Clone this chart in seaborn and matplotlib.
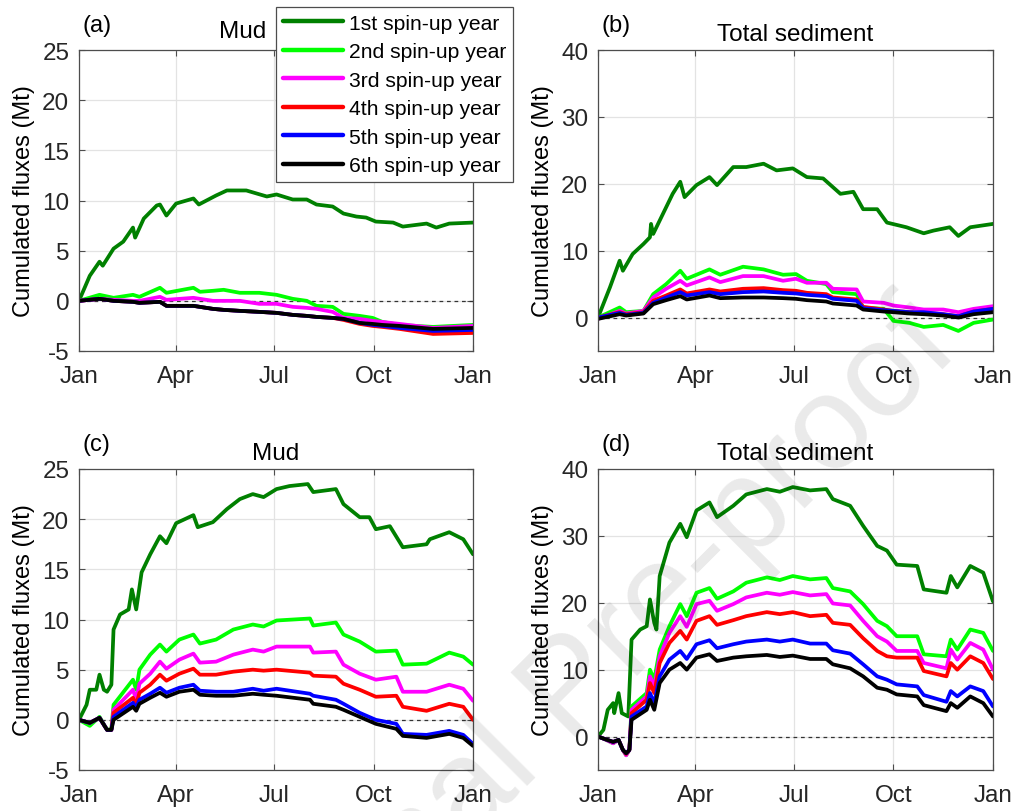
import numpy as np
import pandas as pd
import matplotlib
matplotlib.use("Agg")
import matplotlib.pyplot as plt
from matplotlib.lines import Line2D
import seaborn as sns

# ---------------- data ----------------
series_names = ["1st spin-up year", "2nd spin-up year", "3rd spin-up year",
                "4th spin-up year", "5th spin-up year", "6th spin-up year"]
series_colors = ["#008000", "#00ff00", "#ff00ff", "#ff0000", "#0000ff", "#000000"]
month_ticks = [0, 90, 181, 273, 365]
month_labels = ["Jan", "Apr", "Jul", "Oct", "Jan"]
panel_letters = ["(a)", "(b)", "(c)", "(d)"]
panel_titles = ["Mud", "Total sediment", "Mud", "Total sediment"]

# ---- panel (a): Mud ----
a_days1 = [0, 10, 19, 22, 32, 41, 50, 52, 60, 72, 75, 81, 90, 106, 111, 127, 137, 155, 174, 183,
           198, 211, 220, 235, 245, 257, 266, 275, 291, 300, 322, 331, 343, 365]
a_y1 = [0, 2.5, 3.9, 3.5, 5.2, 5.9, 7.3, 6.3, 8.2, 9.5, 9.6, 8.5, 9.7, 10.2, 9.6, 10.5, 11.0, 11.0, 10.4, 10.6,
        10.1, 10.1, 9.6, 9.4, 8.7, 8.4, 8.3, 7.9, 7.8, 7.4, 7.7, 7.3, 7.7, 7.8]
a_days = [0, 19, 32, 50, 56, 75, 81, 106, 112, 124, 134, 149, 167, 183, 198, 211, 220, 235, 245, 260,
          272, 281, 297, 328, 365]
a_y2 = [0, 0.6, 0.3, 0.6, 0.4, 1.3, 0.8, 1.3, 0.9, 1.0, 1.1, 0.8, 0.8, 0.6, 0.2, 0.0, -0.5, -0.6, -1.3, -1.5,
        -1.7, -2.1, -2.4, -2.6, -2.4]
a_y3 = [0, 0.2, 0.1, 0.0, 0.0, 0.4, 0.1, 0.3, 0.2, 0.0, 0.0, 0.0, -0.3, -0.3, -0.6, -0.7, -0.8, -1.1, -1.7, -1.8,
        -2.0, -2.1, -2.3, -2.7, -2.5]
a_y4 = [0, 0.2, 0.0, -0.1, -0.2, -0.1, -0.5, -0.5, -0.6, -0.8, -0.9, -1.0, -1.1, -1.2, -1.4, -1.5, -1.6, -1.7, -1.9, -2.3,
        -2.5, -2.6, -2.8, -3.3, -3.2]
a_y5 = [0, 0.2, 0.0, -0.1, -0.2, -0.1, -0.5, -0.5, -0.6, -0.8, -0.9, -1.0, -1.1, -1.2, -1.4, -1.5, -1.6, -1.7, -1.8, -2.2,
        -2.4, -2.5, -2.7, -3.0, -2.9]
a_y6 = [0, 0.2, 0.0, -0.1, -0.2, -0.1, -0.5, -0.5, -0.6, -0.8, -0.9, -1.0, -1.1, -1.2, -1.4, -1.5, -1.6, -1.7, -1.8, -2.2,
        -2.3, -2.4, -2.5, -2.8, -2.7]

# ---- panel (b): Total sediment ----
b_days1 = [0, 11, 20, 23, 32, 42, 48, 49, 51, 60, 69, 76, 80, 91, 103, 110, 125, 137, 153, 165,
           180, 193, 208, 224, 236, 245, 258, 267, 285, 301, 310, 325, 333, 344, 365]
b_y1 = [0, 4.5, 8.5, 7.0, 9.5, 11.0, 12.0, 14.0, 12.5, 15.5, 18.5, 20.3, 18.0, 19.8, 21.0, 19.8, 22.5, 22.5, 23.0, 22.0,
        22.3, 21.0, 20.8, 18.5, 18.8, 16.2, 16.2, 14.2, 13.5, 12.6, 13.0, 13.5, 12.2, 13.5, 14.0]
b_days = [0, 20, 26, 42, 51, 63, 76, 82, 103, 113, 134, 153, 171, 183, 193, 211, 217, 239, 245, 264,
          273, 288, 301, 319, 333, 347, 365]
b_y2 = [0, 1.5, 0.8, 1.0, 3.5, 5.0, 7.0, 5.8, 7.2, 6.4, 7.6, 7.2, 6.4, 6.5, 5.5, 5.0, 3.8, 3.5, 1.5, 1.3,
        -0.5, -0.8, -1.4, -1.1, -2.0, -0.8, -0.3]
b_y3 = [-0.2, 1.0, 0.6, 1.0, 3.0, 4.3, 5.5, 4.8, 6.0, 5.3, 6.2, 6.2, 5.5, 5.8, 5.2, 5.2, 4.3, 4.2, 2.4, 2.2,
        1.8, 1.5, 1.2, 1.2, 0.8, 1.3, 1.7]
b_y4 = [0, 0.8, 0.5, 0.8, 2.5, 3.3, 4.2, 3.6, 4.2, 3.9, 4.3, 4.4, 4.1, 4.0, 3.7, 3.5, 3.0, 2.7, 1.6, 1.2,
        1.0, 0.8, 0.7, 0.5, 0.2, 0.9, 1.3]
b_y5 = [0, 0.7, 0.4, 0.7, 2.2, 3.0, 3.8, 3.3, 3.8, 3.5, 3.8, 3.9, 3.7, 3.6, 3.4, 3.2, 2.8, 2.5, 1.4, 1.1,
        1.0, 0.8, 0.8, 0.5, 0.2, 0.9, 1.3]
b_y6 = [-0.2, 0.5, 0.3, 0.6, 2.0, 2.6, 3.2, 2.7, 3.3, 2.9, 3.0, 3.0, 2.9, 2.8, 2.6, 2.4, 2.1, 1.8, 1.2, 0.9,
        0.8, 0.6, 0.5, 0.3, 0.0, 0.5, 0.8]

# ---- panel (c): Mud ----
c_days1 = [0, 7, 10, 16, 19, 23, 26, 30, 32, 38, 46, 49, 53, 58, 66, 75, 81, 90, 106, 110,
           124, 137, 149, 161, 171, 183, 195, 212, 217, 238, 245, 260, 269, 275, 288, 300, 322, 325, 343, 356, 365]
c_y1 = [0, 1.5, 3.0, 3.0, 4.5, 3.0, 2.8, 3.5, 9.0, 10.5, 11.0, 13.0, 11.0, 14.7, 16.5, 18.3, 17.6, 19.6, 20.4, 19.2,
        19.7, 21.0, 22.0, 22.5, 22.2, 23.0, 23.3, 23.5, 22.7, 23.0, 21.5, 20.2, 20.2, 19.0, 19.3, 17.2, 17.5, 18.0,
        18.7, 18.0, 16.5]
c_days = [0, 10, 19, 26, 30, 32, 50, 53, 56, 66, 75, 81, 93, 106, 112, 127, 143, 161, 171, 183,
          214, 217, 238, 245, 260, 275, 294, 300, 322, 343, 356, 365]
c_y2 = [0, -0.6, 0.3, -1.0, -0.9, 1.5, 4.0, 3.0, 5.0, 6.5, 7.5, 6.8, 8.0, 8.5, 7.6, 8.0, 9.0, 9.5, 9.3, 9.9,
        10.1, 9.4, 9.7, 8.5, 7.8, 6.8, 6.9, 5.5, 5.6, 6.7, 6.3, 5.5]
c_y3 = [0, -0.3, 0.2, -1.0, -1.0, 1.0, 3.0, 2.0, 3.6, 4.6, 5.8, 5.1, 6.0, 6.6, 5.7, 5.8, 6.5, 7.0, 6.8, 7.3,
        7.3, 6.7, 6.8, 5.5, 4.6, 4.0, 4.3, 2.8, 2.8, 3.5, 3.1, 1.9]
c_y4 = [0, -0.3, 0.2, -1.0, -1.0, 0.7, 2.2, 1.5, 2.7, 3.5, 4.5, 3.9, 4.6, 5.1, 4.5, 4.5, 4.8, 5.0, 4.9, 5.0,
        4.7, 4.4, 4.3, 3.6, 3.0, 2.3, 2.4, 1.3, 0.9, 1.6, 1.3, 0.0]
c_y5 = [0, -0.3, 0.2, -1.0, -1.0, 0.3, 1.7, 1.2, 2.0, 2.6, 3.2, 2.7, 3.2, 3.5, 2.9, 2.8, 2.8, 3.1, 2.9, 3.1,
        2.6, 2.4, 2.0, 1.6, 0.7, 0.0, -0.4, -1.4, -1.5, -1.1, -1.5, -2.4]
c_y6 = [0, -0.3, 0.2, -1.0, -1.0, 0.0, 1.3, 0.9, 1.6, 2.2, 2.7, 2.3, 2.8, 3.0, 2.5, 2.4, 2.4, 2.6, 2.5, 2.4,
        2.0, 1.6, 1.3, 1.0, 0.3, -0.4, -0.9, -1.6, -1.8, -1.4, -1.8, -2.6]

# ---- panel (d): Total sediment ----
d_days1 = [0, 5, 9, 14, 15, 19, 22, 28, 31, 39, 45, 48, 52, 54, 57, 66, 76, 82, 91, 103,
           110, 125, 137, 156, 168, 180, 196, 211, 217, 233, 245, 258, 267, 276, 295, 301, 322, 326, 332, 344, 356, 365]
d_y1 = [0, 1.0, 4.0, 5.0, 3.5, 6.5, 3.5, 3.0, 14.5, 16.0, 16.5, 20.5, 17.0, 16.0, 24.0, 29.0, 31.8, 29.8, 33.8, 35.0,
        32.8, 34.5, 36.2, 37.0, 36.6, 37.3, 36.8, 37.0, 35.5, 34.5, 31.5, 28.5, 27.8, 25.7, 25.5, 22.0, 21.5, 24.0,
        22.3, 25.5, 24.5, 20.2]
d_days = [0, 5, 14, 19, 23, 26, 29, 31, 45, 48, 52, 57, 66, 76, 82, 91, 103, 110, 125, 137,
          156, 168, 180, 196, 211, 217, 233, 245, 258, 267, 276, 295, 301, 322, 326, 332, 344, 356, 365]
d_y2 = [0, -0.3, -1.0, -0.5, -2.0, -2.8, -2.0, 4.5, 6.5, 10.0, 8.5, 13.0, 16.5, 19.8, 18.0, 21.5, 22.2, 20.6, 21.7, 23.0,
        23.8, 23.4, 24.0, 23.5, 23.7, 22.2, 21.7, 19.8, 17.3, 16.5, 15.0, 15.0, 12.3, 12.0, 14.5, 13.0, 16.0, 15.5, 12.8]
d_y3 = [0, -0.3, -1.0, -0.5, -2.0, -2.8, -2.0, 4.0, 6.0, 9.0, 7.5, 12.0, 15.5, 18.0, 16.4, 19.8, 20.3, 18.8, 19.8, 20.8,
        21.5, 21.2, 21.6, 21.1, 21.3, 19.9, 19.6, 17.3, 15.0, 14.2, 12.8, 12.8, 11.0, 10.2, 13.0, 11.5, 14.0, 13.0, 10.0]
d_y4 = [0, -0.3, -0.8, -0.5, -2.0, -2.6, -2.0, 3.5, 5.5, 8.0, 6.5, 11.0, 14.0, 15.8, 14.5, 17.3, 18.0, 16.7, 17.4, 18.0,
        18.6, 18.3, 18.6, 18.0, 18.2, 17.0, 16.7, 14.7, 12.8, 12.0, 11.8, 11.8, 9.8, 9.0, 11.0, 10.0, 12.0, 11.0, 8.6]
d_y5 = [0, -0.3, -0.8, -0.5, -2.0, -2.5, -2.0, 3.0, 4.5, 6.5, 5.0, 9.0, 11.5, 12.8, 11.6, 13.8, 14.4, 13.2, 13.8, 14.2,
        14.5, 14.2, 14.5, 13.9, 13.9, 12.9, 12.4, 10.8, 9.0, 8.5, 7.8, 7.5, 6.2, 5.2, 6.8, 6.0, 7.5, 6.8, 4.5]
d_y6 = [0, -0.3, -0.8, -0.5, -2.0, -2.5, -2.0, 2.5, 4.0, 5.5, 4.0, 8.0, 10.0, 11.0, 10.0, 11.8, 12.3, 11.3, 11.8, 12.0,
        12.2, 11.9, 12.1, 11.6, 11.6, 10.8, 10.2, 9.0, 7.3, 7.0, 6.3, 6.0, 4.7, 3.8, 5.0, 4.3, 6.0, 5.0, 3.0]

panels = [
    (a_days1, a_y1, a_days, [a_y2, a_y3, a_y4, a_y5, a_y6]),
    (b_days1, b_y1, b_days, [b_y2, b_y3, b_y4, b_y5, b_y6]),
    (c_days1, c_y1, c_days, [c_y2, c_y3, c_y4, c_y5, c_y6]),
    (d_days1, d_y1, d_days, [d_y2, d_y3, d_y4, d_y5, d_y6]),
]
ylims = [(-5, 25), (-5, 40), (-5, 25), (-5, 40)]
yticks = [[-5, 0, 5, 10, 15, 20, 25], [0, 10, 20, 30, 40],
          [-5, 0, 5, 10, 15, 20, 25], [0, 10, 20, 30, 40]]

# ---------------- style ----------------
sns.set_theme(style="white")
plt.rcParams["font.family"] = ["Liberation Sans", "DejaVu Sans"]
plt.rcParams["axes.unicode_minus"] = False
TXT = "#262626"

W, H = 1015, 812
fig = plt.figure(figsize=(W / 100, H / 100), dpi=100)

def px_rect(l, t, r, b):
    return [l / W, 1 - b / H, (r - l) / W, (b - t) / H]

rects = [px_rect(79, 51, 473, 352), px_rect(598, 51, 993, 352),
         px_rect(79, 470, 473, 771), px_rect(598, 470, 993, 771)]

# watermark (drawn first, behind everything else in figure coords, but semi-transparent on top)
fig.text(962 / W, 1 - 352 / H, "Journal Pre-proof", fontsize=96, color="black", alpha=0.085,
         rotation=45, rotation_mode="anchor", ha="right", va="baseline", zorder=10)

for i, (days1, y1, days, others) in enumerate(panels):
    ax = fig.add_axes(rects[i])
    frames = [pd.DataFrame({"day": days1, "value": y1, "series": series_names[0]})]
    for k, ys in enumerate(others):
        frames.append(pd.DataFrame({"day": days, "value": ys, "series": series_names[k + 1]}))
    df = pd.concat(frames, ignore_index=True)

    ax.axhline(0, color="#333333", ls=(0, (3, 3)), lw=0.9, zorder=1.5)
    sns.lineplot(data=df, x="day", y="value", hue="series", hue_order=series_names,
                 palette=series_colors, linewidth=2.7, estimator=None, sort=False,
                 legend=False, ax=ax, zorder=2)

    ax.set_xlim(0, 365)
    ax.set_ylim(*ylims[i])
    ax.set_xticks(month_ticks)
    ax.set_xticklabels(month_labels)
    ax.set_yticks(yticks[i])
    ax.set_xlabel("")
    ax.set_ylabel("Cumulated fluxes (Mt)", fontsize=17, color="black", labelpad=5)
    ax.grid(True, color="#e3e3e3", lw=0.9)
    ax.set_axisbelow(True)
    for sp in ax.spines.values():
        sp.set_color("#4d4d4d")
        sp.set_linewidth(0.9)
    ax.tick_params(axis="both", which="both", direction="in", length=4, width=0.8,
                   colors="#4d4d4d", labelcolor=TXT, labelsize=17.5,
                   top=True, right=True, bottom=True, left=True)
    ax.tick_params(axis="x", pad=10)
    ax.tick_params(axis="y", pad=7)

    # panel letter and title
    ax.text(0.008, 1.0 + 25 / 301, panel_letters[i], transform=ax.transAxes,
            fontsize=17, color="black", ha="left", va="center")
    if i == 0:
        ax.text((243 - 79) / 394, 1.0 + 19 / 301, panel_titles[i], transform=ax.transAxes,
                fontsize=17.5, color="black", ha="center", va="center")
    else:
        ax.text(0.5, 1.0 + 16 / 301, panel_titles[i], transform=ax.transAxes,
                fontsize=17.5, color="black", ha="center", va="center")

# legend
handles = [Line2D([0], [0], color=c, lw=3.2) for c in series_colors]
leg = fig.legend(handles, series_names, loc="upper left",
                 bbox_to_anchor=(276 / W, 1 - 8 / H), frameon=True, fancybox=False,
                 edgecolor="#4d4d4d", framealpha=1, fontsize=15.2, handlelength=2.85,
                 handletextpad=0.3, labelspacing=0.45, borderpad=0.32, borderaxespad=0)
leg.get_frame().set_linewidth(0.9)
leg.set_zorder(20)
for t in leg.get_texts():
    t.set_color("black")

fig.savefig("out.png", dpi=100)
